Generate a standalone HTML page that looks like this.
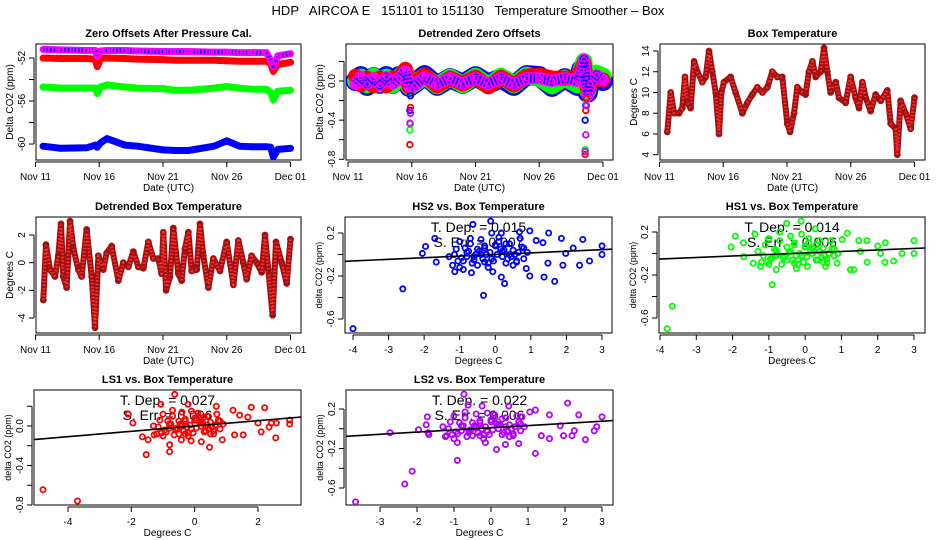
<!DOCTYPE html>
<html><head><meta charset="utf-8"><title>HDP AIRCOA E Temperature Smoother</title>
<style>
html,body{margin:0;padding:0;background:#fff;}
svg{display:block;font-family:"Liberation Sans",Arial,sans-serif;}
.tk{font-size:10px;fill:#000;}
.ttl{font-size:11px;font-weight:bold;fill:#000;}
.lab{font-size:10px;fill:#000;}
.ann{font-size:14px;fill:#000;}
</style></head>
<body>
<svg id="chart" width="936" height="540" viewBox="0 0 936 540" xmlns="http://www.w3.org/2000/svg">
<rect x="0" y="0" width="936" height="540" fill="#fff"/>
<text x="468" y="15" text-anchor="middle" style="font-size:13px;white-space:pre" xml:space="preserve">HDP   AIRCOA E   151101 to 151130   Temperature Smoother – Box</text>
</svg>
<script>
// ---------- Data ----------
const zoDays = [0.6,2,4,4.7,4.85,5.1,5.6,7,8,10,11,12,14,15,16,17,18.1,18.45,18.65,19,20];
const zoPurple = [-51.2,-51.25,-51.3,-51.3,-51.85,-51.35,-51.3,-51.3,-51.35,-51.4,-51.4,-51.4,-51.45,-51.45,-51.5,-51.5,-51.5,-52.2,-52.8,-51.8,-51.6];
const zoRed = [-52.0,-52.05,-52.05,-52.1,-52.8,-52.05,-52.0,-52.05,-52.1,-52.15,-52.2,-52.2,-52.2,-52.25,-52.3,-52.3,-52.3,-52.5,-53.25,-52.6,-52.4];
const zoGreen = [-54.7,-54.8,-54.8,-54.8,-55.3,-54.7,-54.5,-54.7,-54.8,-54.85,-55.0,-55.0,-54.8,-54.65,-54.8,-54.9,-54.9,-55.2,-55.9,-55.1,-55.0];
const zoBlue = [-60.2,-60.4,-60.35,-60.1,-60.3,-59.9,-59.5,-60.1,-60.2,-60.55,-60.6,-60.6,-60.2,-59.7,-60.2,-60.25,-60.25,-60.3,-61.2,-60.5,-60.4];

// Panel 2 band (baseline) values
const dzDays = [0.6,1,1.5,2,2.5,3,3.5,4,4.5,4.8,5.2,6,7,8,9,10,11,12,13,14,15,16,17,18,18.3,18.5,18.8,19,19.5,20];
const dzBlue = [0,0.05,-0.05,0.04,-0.03,0.05,-0.03,0.05,0.03,-0.06,-0.03,0.06,-0.05,0.03,-0.03,0.05,-0.03,0.03,-0.05,0.06,0.05,-0.06,0.03,-0.05,0.12,0.1,-0.12,0,0.03,0];
const dzGreen = [0,0.04,-0.04,0.05,-0.03,0.04,-0.04,0.04,0.1,-0.06,-0.03,0.05,-0.05,0.04,-0.04,0.05,-0.05,0.05,-0.04,0.06,0.03,-0.05,0.03,-0.04,0.12,0.2,-0.1,0.03,0.08,0.05];
const dzRed = [0.05,-0.04,0.03,-0.05,0.03,-0.05,0.03,0.03,0.12,-0.06,-0.03,0.06,-0.05,0.03,-0.03,0.04,-0.06,0.04,-0.04,0.05,0.06,0.03,0.03,0.03,0.12,0.18,-0.1,-0.03,0.03,0.01];
const dzPurple = [-0.03,0.04,-0.03,0.03,-0.04,0.04,-0.03,0.03,0.1,-0.06,-0.05,0.04,-0.03,0.03,-0.03,0.03,-0.03,0.03,-0.03,0.03,0.03,0,0.03,0,0.1,0.22,-0.15,-0.02,0.06,0.01];
// Panel 2 isolated spike points
const spDays = [4.85,4.9,18.6,18.65,18.7];
const spBlue = [-0.3,-0.15,-0.4,-0.25,-0.2];
const spGreen = [-0.5,-0.44,-0.7,-0.3,-0.2];
const spRed = [-0.65,-0.27,-0.75,-0.3,-0.18];
const spPurple = [-0.43,-0.33,-0.72,-0.55,-0.25];

const btDays = [0.61,0.88,1.14,1.53,1.79,2.0,2.18,2.44,2.71,2.97,3.36,3.62,3.88,4.14,4.41,4.67,4.85,5.06,5.58,5.97,6.5,6.89,7.28,7.67,8.07,8.46,8.85,9.24,9.63,10.02,10.24,10.55,10.81,11.2,11.46,11.72,11.99,12.25,12.64,12.9,13.16,13.42,13.82,14.08,14.6,14.99,15.38,15.65,15.91,16.17,16.56,16.95,17.35,17.87,18.13,18.52,18.65,18.91,19.3,19.7,20.0];
const btTemp = [6.2,10,8,8,8.5,11.5,9,8.5,13,12,11,11.5,14,12,10,6,10,11,11.5,10,8,9,9.8,10.5,10,10.5,12,11.5,11.5,7,6.2,8,10.5,10,9.8,12,13,11.5,12,14.3,12,10,11,9.5,9,11.5,9.5,8.5,11,9.5,8.2,9.8,9.2,10.2,7,6.5,4,9.2,8,6.5,9.5];

const dtDays = [0.61,0.82,1.14,1.53,1.79,2.0,2.18,2.44,2.71,2.97,3.36,3.62,4.01,4.41,4.67,4.93,5.32,5.58,5.97,6.5,6.89,7.28,7.67,8.07,8.46,8.85,9.24,9.63,9.89,10.02,10.24,10.55,10.81,11.2,11.46,11.72,11.99,12.25,12.64,12.9,13.16,13.56,13.95,14.47,14.99,15.52,15.91,16.3,16.56,16.95,17.35,17.74,18.0,18.26,18.6,18.86,19.3,19.7,20.0];
const dtTemp = [-2.7,1.3,-0.5,-1,0.5,2.8,-1,-1.8,3,1,-0.5,-1,2.4,-1,-4.7,0.5,-0.5,0.7,1.2,-1.3,0,-0.3,0.8,-0.3,-0.4,1.5,0.3,0.3,-0.8,2.2,-2,-1,2.5,-0.8,-1.3,1,2.2,-0.6,-0.5,2.8,0.5,-1.8,0.3,-0.6,1.5,-1.6,1.6,0,-1.2,0.5,0,-0.7,2,-0.5,-3.8,1.5,0,-1.5,1.7];

const hs2X = [-4,-2.6,-0.33,-2.05,-1.96,-1.7,-1.66,-1.14,-0.63,-0.13,0.17,0.68,0.97,1.15,1.34,1.5,1.86,2.46,3,3,2.65,2.37,1.9,1.67,1.37,0.97,0.26,0.17,-0.07,-0.67,1.98,2.19,1.48,0.87,-0.9,
  -1.3,-1.1,-0.9,-0.7,-0.5,-0.3,-0.1,0.1,0.3,0.5,0.7,0.9,-1.2,-1.0,-0.8,-0.6,-0.4,-0.2,0,0.2,0.4,0.6,0.8,-1.0,-0.7,-0.4,-0.1,0.2,0.5,0.8,-0.5,-0.2,0.1,0.4,-0.8,-0.3,
  -1.15,-0.95,-0.75,-0.55,-0.35,-0.15,0.05,0.25,0.45,0.65,-0.85,-0.45,-0.05,0.35,0.75,-0.65,-0.25,0.15,0.55,-1.05,-0.6,0.0,0.6,-0.3,0.3];
const hs2Y = [-0.69,-0.32,-0.38,0.01,0.075,0.15,-0.07,-0.16,0.28,0.31,0.2,0.21,0.22,0.13,0.11,0.2,0.15,0.14,0.08,0,-0.06,-0.1,-0.1,-0.25,-0.21,-0.2,-0.27,-0.21,-0.16,-0.17,0.01,0.06,-0.08,-0.13,-0.14,
  -0.02,0.05,-0.06,0.1,-0.1,0.06,-0.04,0.12,-0.08,0.04,0.15,0.02,-0.1,0.12,0.02,-0.05,0.14,-0.12,0.08,-0.02,0.1,-0.06,0.06,-0.12,0.15,0.0,0.2,0.03,-0.1,-0.04,0.05,-0.08,0.16,0.0,-0.02,0.08,
  0.0,-0.03,0.03,0.0,-0.04,0.02,0.0,0.04,-0.02,0.02,0.06,0.03,-0.06,-0.04,0.07,-0.08,0.0,0.05,0.0,-0.06,-0.02,0.09,-0.07,-0.07,0.1];
const hs2Fit = [0.015, 0.0];

const hs1X = [-3.8,-3.66,-0.91,-2.04,-1.92,-1.7,-1.38,-0.51,-0.11,0.28,1.16,1.48,1.7,2.21,2.0,3,3,2.67,2.44,2.2,2.08,1.71,1.34,1.25,0.88,0.56,0.06,-0.24,-0.8,-1.23,-1.43,-1.69,1.02,1.52,
  -1.3,-1.1,-0.9,-0.7,-0.5,-0.3,-0.1,0.1,0.3,0.5,0.7,0.9,-1.2,-1.0,-0.8,-0.6,-0.4,-0.2,0,0.2,0.4,0.6,0.8,-1.0,-0.7,-0.4,-0.1,0.2,0.5,0.8,-0.5,-0.2,0.1,0.4,-0.8,-0.3,
  -1.15,-0.95,-0.75,-0.55,-0.35,-0.15,0.05,0.25,0.45,0.65,-0.85,-0.45,-0.05,0.35,0.75,-0.65,-0.25,0.15,0.55,-1.05,-0.6,0.0,0.6,-0.3,0.3];
const hs1Y = [-0.70,-0.49,-0.29,0.06,0.16,0.1,0.18,0.28,0.3,0.23,0.19,0.12,0.12,0.1,0.07,0.12,0,0,-0.07,-0.08,0,-0.08,-0.15,-0.15,-0.09,-0.12,-0.12,-0.14,-0.15,-0.12,-0.09,-0.03,0.13,0.02,
  0.02,0.08,-0.04,0.12,-0.06,0.08,-0.02,0.1,-0.06,0.05,0.12,0.0,-0.08,0.14,0.03,-0.04,0.16,-0.1,0.06,0.0,0.12,-0.05,0.04,-0.1,0.2,0.02,0.18,0.05,-0.08,-0.02,0.06,-0.06,0.14,0.02,-0.02,0.1,
  -0.02,-0.05,0.0,-0.03,-0.06,0.0,-0.03,0.02,-0.04,0.0,0.04,0.01,-0.08,-0.06,0.05,-0.1,-0.02,0.03,-0.02,-0.08,-0.04,0.07,-0.09,-0.09,0.08];
const hs1Fit = [0.014, 0.005];

const ls1X = [-4.79,-3.7,-1.53,-0.79,-0.79,0.47,-0.63,-1.07,-0.21,-2.1,-1.95,0.68,1.21,1.79,2.21,1.68,2.0,2.42,2.58,3.0,3,2.35,2.1,2.56,1.53,1.26,0.87,0.21,-0.11,-0.42,-1.47,-1.65,-1.28,1.42,
  -1.3,-1.1,-0.9,-0.7,-0.5,-0.3,-0.1,0.1,0.3,0.5,0.7,0.9,-1.2,-1.0,-0.8,-0.6,-0.4,-0.2,0,0.2,0.4,0.6,0.8,-1.0,-0.7,-0.4,-0.1,0.2,0.5,0.8,-0.5,-0.2,0.1,0.4,-0.8,-0.3,
  -1.15,-0.95,-0.75,-0.55,-0.35,-0.15,0.05,0.25,0.45,0.65,-0.85,-0.45,-0.05,0.35,0.75,-0.65,-0.25,0.15,0.55,-1.05,-0.6,0.0,0.6,-0.3,0.3];
const ls1Y = [-0.645,-0.76,-0.29,-0.19,-0.26,-0.215,0.32,0.22,0.22,0.12,0.03,0.2,0.16,0.19,0.185,0.09,0.03,0.03,0.03,0.06,0.02,-0.01,-0.06,-0.12,-0.09,-0.09,-0.14,-0.16,-0.15,-0.14,-0.14,-0.11,-0.09,0.11,
  0.0,0.06,-0.06,0.1,-0.08,0.05,-0.03,0.1,-0.06,0.04,0.12,0.02,-0.08,0.12,0.02,-0.04,0.14,-0.1,0.06,0.0,0.1,-0.05,0.05,-0.1,0.16,0.0,0.15,0.03,-0.08,-0.03,0.05,-0.07,0.13,0.01,-0.02,0.07,
  -0.01,-0.04,0.02,-0.02,-0.05,0.01,-0.02,0.03,-0.03,0.01,0.05,0.02,-0.07,-0.05,0.06,-0.09,-0.01,0.04,-0.01,-0.07,-0.03,0.08,-0.08,-0.08,0.09];
const ls1Fit = [0.027, 0.0];

const ls2X = [-3.66,-2.33,-2.13,-0.91,-2.73,-1.96,-1.72,-0.73,-0.62,-0.24,0.48,1.05,1.2,1.58,2.07,2.37,3,2.86,2.79,2.25,2.19,2.55,1.96,1.2,0.75,0.39,0.15,-0.15,-0.91,-1.23,-1.68,1.58,1.36,0.84,1.87,
  -1.3,-1.1,-0.9,-0.7,-0.5,-0.3,-0.1,0.1,0.3,0.5,0.7,0.9,-1.2,-1.0,-0.8,-0.6,-0.4,-0.2,0,0.2,0.4,0.6,0.8,-1.0,-0.7,-0.4,-0.1,0.2,0.5,0.8,-0.5,-0.2,0.1,0.4,-0.8,-0.3,
  -1.15,-0.95,-0.75,-0.55,-0.35,-0.15,0.05,0.25,0.45,0.65,-0.85,-0.45,-0.05,0.35,0.75,-0.65,-0.25,0.15,0.55,-1.05,-0.6,0.0,0.6,-0.3,0.3,-1.75,-1.7];
const ls2Y = [-0.74,-0.56,-0.43,-0.32,-0.04,-0.01,0.12,0.35,0.24,0.23,0.23,0.17,0.19,0.14,0.26,0.14,0.12,0.02,-0.02,-0.02,-0.07,-0.11,-0.07,-0.25,-0.15,-0.16,-0.21,-0.14,-0.14,-0.08,-0.06,-0.1,-0.07,0.12,0.03,
  0.02,0.07,-0.05,0.11,-0.07,0.06,-0.03,0.11,-0.06,0.04,0.13,0.02,-0.07,0.13,0.03,-0.04,0.15,-0.1,0.07,0.0,0.11,-0.05,0.05,-0.1,0.17,0.01,0.16,0.04,-0.08,-0.02,0.06,-0.06,0.14,0.02,-0.02,0.08,
  0.0,-0.03,0.03,-0.01,-0.04,0.02,-0.01,0.04,-0.02,0.02,0.06,0.03,-0.06,-0.04,0.07,-0.08,0.0,0.05,0.0,-0.06,-0.02,0.09,-0.07,-0.07,0.1,0.04,-0.04];
const ls2Fit = [0.022, 0.01];

const dayTicks = [0,5,10,15,20];
const dayLabels = ["Nov 11","Nov 16","Nov 21","Nov 26","Dec 01"];

// ---------- Helpers ----------
const NS = "http://www.w3.org/2000/svg";
const svg = document.getElementById("chart");
function mk(tag, attrs, parent){
  const e = document.createElementNS(NS, tag);
  for (const k in attrs) e.setAttribute(k, attrs[k]);
  (parent||svg).appendChild(e);
  return e;
}
function lin(d0,p0,d1,p1){ const k=(p1-p0)/(d1-d0); return v=>p0+(v-d0)*k; }

function frame(name, box, xs, ys, xt, xl, yt, yl, title, xlab, ylab, ylabSize){
  const g = mk("g", {});
  
  
  const r = mk("rect", {x:box.x0, y:box.y0, width:box.x1-box.x0, height:box.y1-box.y0, fill:"none", stroke:"#000", "stroke-width":1}, g);
  
  
  const xa = mk("g", {}, g);
  
  
  mk("line", {x1:xs(xt[0]), x2:xs(xt[xt.length-1]), y1:box.y1+2, y2:box.y1+2, stroke:"#000"}, xa);
  xt.forEach((t,i)=>{
    mk("line", {x1:xs(t), x2:xs(t), y1:box.y1+2, y2:box.y1+7, stroke:"#000"}, xa);
    if (xl[i] !== "") {
      const tx = mk("text", {x:xs(t), y:box.y1+20, "text-anchor":"middle", class:"tk"}, xa);
      tx.textContent = xl[i];
      
      
    }
  });
  const ya = mk("g", {}, g);
  
  
  mk("line", {x1:box.x0-2, x2:box.x0-2, y1:ys(yt[0]), y2:ys(yt[yt.length-1]), stroke:"#000"}, ya);
  yt.forEach((t,i)=>{
    mk("line", {x1:box.x0-7, x2:box.x0-2, y1:ys(t), y2:ys(t), stroke:"#000"}, ya);
    if (yl[i] !== "") {
      const ty = mk("text", {x:0, y:0, "text-anchor":"middle", class:"tk", transform:`translate(${box.x0-11},${ys(t)}) rotate(-90)`}, ya);
      ty.textContent = yl[i];
      
      
    }
  });
  const tt = mk("text", {x:(box.x0+box.x1)/2, y:box.y0-7, "text-anchor":"middle", class:"ttl"}, g);
  tt.textContent = title;
  
  
  const xlt = mk("text", {x:(box.x0+box.x1)/2, y:box.y1+31, "text-anchor":"middle", class:"lab"}, g);
  xlt.textContent = xlab;
  
  
  const ylt = mk("text", {x:0, y:0, "text-anchor":"middle", class:"lab", style:`font-size:${ylabSize||10}px`, transform:`translate(${box.x0-23},${(box.y0+box.y1)/2}) rotate(-90)`}, g);
  ylt.textContent = ylab;
  
  
  const clipId = name + "-clip";
  const cp = mk("clipPath", {id:clipId}, g);
  mk("rect", {x:box.x0, y:box.y0, width:box.x1-box.x0, height:box.y1-box.y0}, cp);
  const inner = mk("g", {"clip-path":`url(#${clipId})`}, g);
  return inner;
}

function band(parent, name, days, vals, xs, ys, color, w, overlay){
  const pts = days.map((d,i)=>xs(d).toFixed(1)+","+ys(vals[i]).toFixed(1)).join(" ");
  const pl = mk("polyline", {points:pts, fill:"none", stroke:color, "stroke-width":w, "stroke-linejoin":"round", "stroke-linecap":"round"}, parent);
  
  
  if (overlay) {
    mk("polyline", {points:pts, fill:"none", stroke:overlay, "stroke-width":Math.max(1,w-3), "stroke-dasharray":"1.5 2", "stroke-linejoin":"round"}, parent);
  }
  days.forEach((d,i)=>{
    const c = mk("circle", {cx:xs(d), cy:ys(vals[i]), r:2.6, fill:"none", stroke:color, "stroke-width":1.6}, parent);
    
    
  });
}

function dots(parent, name, days, vals, xs, ys, color){
  days.forEach((d,i)=>{
    const c = mk("circle", {cx:xs(d), cy:ys(vals[i]), r:2.8, fill:"none", stroke:color, "stroke-width":1.8}, parent);
    
    
  });
}

function scatter(parent, name, xsArr, ysArr, xs, ys, color, fit, box, tdep, serr){
  const cx = (box.x0+box.x1)/2;
  const t1 = mk("text", {x:cx, y:box.y0+15, "text-anchor":"middle", class:"ann"}, parent);
  t1.textContent = "T. Dep. =  " + tdep;
  
  
  const t2 = mk("text", {x:cx, y:box.y0+30, "text-anchor":"middle", class:"ann"}, parent);
  t2.textContent = "S. Err. =  " + serr;
  
  
  xsArr.forEach((v,i)=>{
    const c = mk("circle", {cx:xs(v), cy:ys(ysArr[i]), r:2.6, fill:"none", stroke:color, "stroke-width":1.8}, parent);
    
    
  });
  const xa = -6, xb = 4;
  const ln = mk("line", {x1:xs(xa), y1:ys(fit[1]+fit[0]*xa), x2:xs(xb), y2:ys(fit[1]+fit[0]*xb), stroke:"#000", "stroke-width":1.6}, parent);
  
  
}

// ---------- Panels ----------
{
  const box={x0:36,x1:301,y0:44,y1:160};
  const xs=lin(0,35.5,20,290.5), ys=lin(-52,58,-56,101);
  const g=frame("zero-offsets-panel",box,xs,ys,dayTicks,dayLabels,[-52,-54,-56,-58,-60],["-52","","-56","","-60"],"Zero Offsets After Pressure Cal.","Date (UTC)","Delta CO2 (ppm)");
  band(g,"series-blue",zoDays,zoBlue,xs,ys,"#0000ff",7);
  band(g,"series-green",zoDays,zoGreen,xs,ys,"#00ff00",7);
  band(g,"series-red",zoDays,zoRed,xs,ys,"#ff0000",7);
  band(g,"series-purple",zoDays,zoPurple,xs,ys,"#ff00ff",7,"#0000ff");
}
{
  const box={x0:346,x1:613,y0:44,y1:160};
  const xs=lin(0,348,20,603), ys=lin(0,81,-0.8,159.3);
  const g=frame("detrended-zero-offsets-panel",box,xs,ys,dayTicks,dayLabels,[0.2,0,-0.2,-0.4,-0.6,-0.8],["","0.0","","-0.4","","-0.8"],"Detrended Zero Offsets","Date (UTC)","Delta CO2 (ppm)");
  band(g,"series-blue",dzDays,dzBlue,xs,ys,"#0000ff",20);
  band(g,"series-green",dzDays,dzGreen,xs,ys,"#00ff00",17);
  band(g,"series-red",dzDays,dzRed,xs,ys,"#ff0000",15);
  band(g,"series-purple",dzDays,dzPurple,xs,ys,"#ff00ff",12,"#0000ff");
  dots(g,"spike-blue",spDays,spBlue,xs,ys,"#0000ff");
  dots(g,"spike-green",spDays,spGreen,xs,ys,"#00ff00");
  dots(g,"spike-red",spDays,spRed,xs,ys,"#ff0000");
  dots(g,"spike-purple",spDays,spPurple,xs,ys,"#d000ff");
}
{
  const box={x0:660,x1:925,y0:44,y1:160};
  const xs=lin(0,659.5,20,914.5), ys=lin(14,51,4,154.7);
  const g=frame("box-temperature-panel",box,xs,ys,dayTicks,dayLabels,[4,6,8,10,12,14],["4","6","8","10","12","14"],"Box Temperature","Date (UTC)","Degrees C");
  band(g,"box-temperature",btDays,btTemp,xs,ys,"#a01010",6,"#ff3030");
}
{
  const box={x0:36,x1:301,y0:217,y1:333};
  const xs=lin(0,35.5,20,290.5), ys=lin(2,235,-4,318);
  const g=frame("detrended-box-temperature-panel",box,xs,ys,dayTicks,dayLabels,[2,0,-2,-4],["2","0","-2","-4"],"Detrended Box Temperature","Date (UTC)","Degrees C");
  band(g,"detrended-temperature",dtDays,dtTemp,xs,ys,"#a01010",6,"#ff3030");
}
{
  const box={x0:345,x1:612,y0:217,y1:333};
  const xs=lin(-4,353,3,602), ys=lin(0.2,233,-0.6,319);
  const g=frame("hs2-vs-box-temperature-panel",box,xs,ys,[-4,-3,-2,-1,0,1,2,3],["-4","-3","-2","-1","0","1","2","3"],[0.2,0,-0.2,-0.4,-0.6],["0.2","","-0.2","","-0.6"],"HS2 vs. Box Temperature","Degrees C","delta CO2 (ppm)",9);
  scatter(g,"hs2",hs2X,hs2Y,xs,ys,"#0000ff",hs2Fit,box,"0.015","0.007");
}
{
  const box={x0:659,x1:925,y0:217,y1:333};
  const xs=lin(-4,660,3,914), ys=lin(0.2,232,-0.6,318);
  const g=frame("hs1-vs-box-temperature-panel",box,xs,ys,[-4,-3,-2,-1,0,1,2,3],["-4","-3","-2","-1","0","1","2","3"],[0.2,0,-0.2,-0.4,-0.6],["0.2","","-0.2","","-0.6"],"HS1 vs. Box Temperature","Degrees C","delta CO2 (ppm)",9);
  scatter(g,"hs1",hs1X,hs1Y,xs,ys,"#00ff00",hs1Fit,box,"0.014","0.006");
}
{
  const box={x0:34,x1:301,y0:390,y1:505};
  const xs=lin(-4,68,2,258), ys=lin(0,426,-0.8,505);
  const g=frame("ls1-vs-box-temperature-panel",box,xs,ys,[-4,-2,0,2],["-4","-2","0","2"],[0.2,0,-0.2,-0.4,-0.6,-0.8],["","0.0","","-0.4","","-0.8"],"LS1 vs. Box Temperature","Degrees C","delta CO2 (ppm)",9);
  scatter(g,"ls1",ls1X,ls1Y,xs,ys,"#ff0000",ls1Fit,box,"0.027","0.006");
}
{
  const box={x0:346,x1:613,y0:390,y1:505};
  const xs=lin(-3,380,3,602), ys=lin(0.2,409,-0.6,488);
  const g=frame("ls2-vs-box-temperature-panel",box,xs,ys,[-3,-2,-1,0,1,2,3],["-3","-2","-1","0","1","2","3"],[0.2,0,-0.2,-0.4,-0.6],["0.2","","-0.2","","-0.6"],"LS2 vs. Box Temperature","Degrees C","delta CO2 (ppm)",9);
  scatter(g,"ls2",ls2X,ls2Y,xs,ys,"#b000ff",ls2Fit,box,"0.022","0.006");
}
</script>
</body></html>
